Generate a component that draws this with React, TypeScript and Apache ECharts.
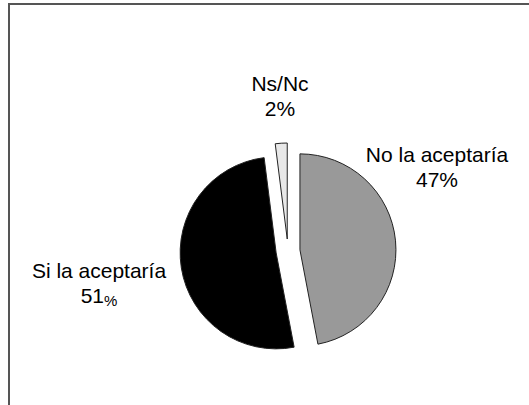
import React, { useEffect, useRef } from "react";
import * as echarts from "echarts";

const categories = ["No la aceptaría", "Si la aceptaría", "Ns/Nc"];
const values = [47, 51, 2];
const colors = ["#999999", "#000000", "#e8e8e8"];
const smallPercent = [false, true, false];
const labelPositions = [
  [437, 167],
  [99, 283],
  [280, 96],
];

const FONT = "'Liberation Sans', Arial, sans-serif";

export default function App() {
  const ref = useRef<HTMLDivElement>(null);
  useEffect(() => {
    if (!ref.current) return;
    const chart = echarts.init(ref.current, null, { renderer: "svg" });
    const labels = categories.map((name, i) => ({
      type: "text",
      x: labelPositions[i][0],
      y: labelPositions[i][1],
      silent: true,
      style: {
        text: smallPercent[i]
          ? `{t|${name}}\n{t|${values[i]}}{s|%}`
          : `{t|${name}}\n{t|${values[i]}%}`,
        align: "center",
        verticalAlign: "middle",
        fontFamily: FONT,
        fontSize: 21,
        lineHeight: 25,
        fill: "#000000",
        rich: {
          t: { fontFamily: FONT, fontSize: 21, lineHeight: 25, fill: "#000000" },
          s: {
            fontFamily: FONT,
            fontSize: 15,
            lineHeight: 25,
            fill: "#000000",
            verticalAlign: "bottom",
          },
        },
      },
    }));
    chart.setOption({
      animation: false,
      backgroundColor: "#ffffff",
      graphic: [
        {
          type: "line",
          shape: { x1: 8, y1: 4, x2: 529, y2: 4 },
          style: { stroke: "#555555", lineWidth: 2 },
          silent: true,
        },
        {
          type: "line",
          shape: { x1: 9, y1: 3, x2: 9, y2: 405 },
          style: { stroke: "#555555", lineWidth: 2 },
          silent: true,
        },
        ...labels,
      ],
      series: [
        {
          type: "pie",
          center: [288, 251],
          radius: 96,
          startAngle: 90,
          clockwise: true,
          selectedMode: "multiple",
          selectedOffset: 12,
          silent: true,
          emphasis: { disabled: true },
          itemStyle: { borderColor: "#222222", borderWidth: 1 },
          label: { show: false },
          labelLine: { show: false },
          data: categories.map((name, i) => ({
            name,
            value: values[i],
            selected: true,
            itemStyle: { color: colors[i] },
          })),
        },
      ],
    });
    return () => chart.dispose();
  }, []);
  return (
    <div
      ref={ref}
      style={{ position: "fixed", left: 0, top: 0, width: 529, height: 405 }}
    />
  );
}
